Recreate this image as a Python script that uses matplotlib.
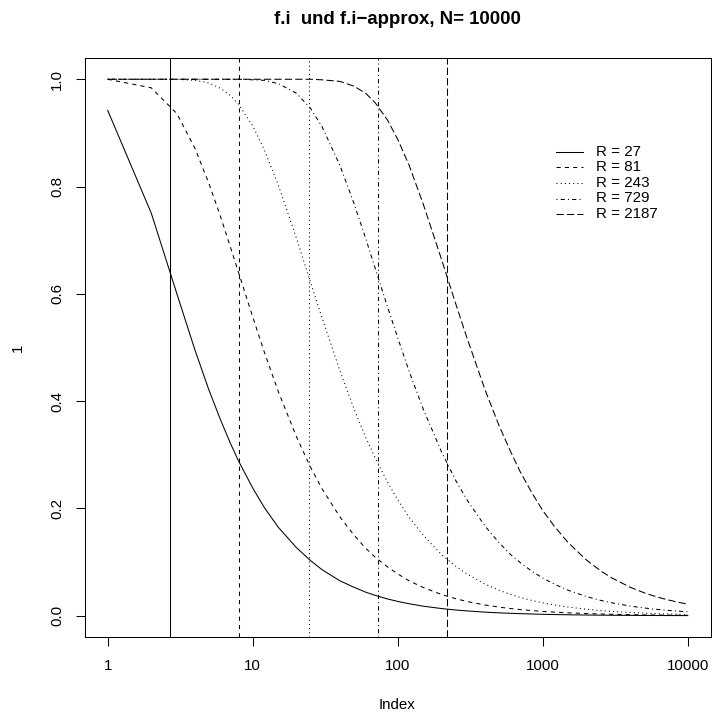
import matplotlib
matplotlib.use("Agg")
import matplotlib.pyplot as plt
from matplotlib.ticker import FixedLocator, FixedFormatter, NullLocator
from matplotlib.lines import Line2D
from matplotlib.transforms import Affine2D

plt.rcParams['font.family'] = ['Liberation Sans', 'DejaVu Sans']

index = [1, 2, 3, 4, 5, 6, 7, 8, 10, 12, 15, 20, 25, 30, 40, 50, 60, 70, 85,
         100, 120, 150, 200, 250, 300, 400, 500, 600, 700, 850, 1000, 1200,
         1500, 2000, 2500, 3000, 4000, 5000, 6000, 7000, 8500, 10000]

f_27 = [0.942, 0.750, 0.600, 0.495, 0.420, 0.365, 0.322, 0.288, 0.238, 0.202,
        0.165, 0.127, 0.103, 0.086, 0.065, 0.053, 0.044, 0.0379, 0.0313,
        0.0267, 0.0223, 0.0178, 0.0134, 0.0107, 0.0090, 0.0067, 0.0054,
        0.0045, 0.0039, 0.0032, 0.0027, 0.00225, 0.0018, 0.00135, 0.00108,
        0.0009, 0.000675, 0.00054, 0.00045, 0.00039, 0.00032, 0.00027]
f_81 = [1.000, 0.984, 0.936, 0.871, 0.805, 0.744, 0.688, 0.639, 0.557, 0.492,
        0.418, 0.334, 0.277, 0.237, 0.184, 0.150, 0.126, 0.109, 0.091,
        0.078, 0.065, 0.0526, 0.0397, 0.0319, 0.0266, 0.0200, 0.0161,
        0.0134, 0.0115, 0.0095, 0.0081, 0.0067, 0.0054, 0.00405, 0.00324,
        0.0027, 0.0020, 0.0016, 0.00135, 0.00116, 0.00095, 0.00081]
f_243 = [1.000, 1.000, 1.000, 0.998, 0.993, 0.983, 0.970, 0.953, 0.913, 0.869,
         0.803, 0.704, 0.622, 0.556, 0.456, 0.385, 0.333, 0.294, 0.249,
         0.216, 0.183, 0.150, 0.114, 0.0927, 0.078, 0.0589, 0.0475,
         0.0397, 0.0341, 0.0282, 0.0240, 0.0200, 0.0161, 0.0121, 0.0097,
         0.0081, 0.0061, 0.0049, 0.00405, 0.00347, 0.00286, 0.00243]
f_729 = [1.000, 1.000, 1.000, 1.000, 1.000, 1.000, 1.000, 1.000, 0.999, 0.998,
         0.992, 0.974, 0.946, 0.912, 0.839, 0.768, 0.704, 0.647, 0.576,
         0.518, 0.455, 0.385, 0.306, 0.253, 0.216, 0.167, 0.136,
         0.114, 0.099, 0.082, 0.0703, 0.0589, 0.0474, 0.0358, 0.0287,
         0.0240, 0.0180, 0.0145, 0.0121, 0.0104, 0.0086, 0.0073]
f_2187 = [1.000, 1.000, 1.000, 1.000, 1.000, 1.000, 1.000, 1.000, 1.000, 1.000,
          1.000, 1.000, 1.000, 0.999, 0.996, 0.987, 0.974, 0.956, 0.924,
          0.888, 0.839, 0.767, 0.665, 0.583, 0.518, 0.421, 0.354,
          0.306, 0.268, 0.227, 0.196, 0.167, 0.136, 0.104, 0.0838,
          0.0703, 0.0532, 0.0428, 0.0358, 0.0308, 0.0254, 0.0216]

R_values = [27, 81, 243, 729, 2187]
series = [f_27, f_81, f_243, f_729, f_2187]
vline_x = [2.7, 8.1, 24.3, 72.9, 218.7]
legend_labels = ["R = 27", "R = 81", "R = 243", "R = 729", "R = 2187"]
xticks = [1, 10, 100, 1000, 10000]
xtick_labels = ["1", "10", "100", "1000", "10000"]
yticks = [0.0, 0.2, 0.4, 0.6, 0.8, 1.0]
ytick_labels = ["0.0", "0.2", "0.4", "0.6", "0.8", "1.0"]

styles = ['-', (0, (4, 4)), (0, (1, 3)), (0, (1, 3, 4, 3)), (0, (7, 3))]

W, H = 712, 713
fs = 10.9
fig = plt.figure(figsize=(W / 100, H / 100), dpi=100)
left, right, top, bottom = 84.5, 711, 57.8, 637.2
ax = fig.add_axes([left / W, 1 - bottom / H, (right - left) / W, (bottom - top) / H])

lw = 0.75
for y, ls in zip(series, styles):
    ax.plot(index, y, color='black', lw=lw, linestyle=ls)
for xv, ls in zip(vline_x, styles):
    ax.axvline(xv, color='black', lw=lw, linestyle=ls)

ax.set_xscale('log')
ax.set_xlim(10 ** (-0.16), 10 ** (4.16))
ax.set_ylim(-0.04, 1.04)
ax.xaxis.set_major_locator(FixedLocator(xticks))
ax.xaxis.set_major_formatter(FixedFormatter(xtick_labels))
ax.xaxis.set_minor_locator(NullLocator())
ax.set_yticks(yticks)
ax.set_yticklabels(ytick_labels, rotation=90, va='center')

for sp in ax.spines.values():
    sp.set_linewidth(0.75)
ax.tick_params(axis='both', length=6.2, width=0.75, labelsize=fs)
ax.tick_params(axis='x', pad=9.5)
ax.tick_params(axis='y', pad=8.5)

def px(x, y):
    return x / W, 1 - y / H

fig.text(*px(397.5, 705), "Index", ha='center', va='center', fontsize=fs)
fig.text(*px(18, 348), "1", ha='center', va='center', fontsize=fs, rotation=90)
fig.text(*px(397.5, 20), "f.i  und f.i\u2212approx, N= 10000",
         ha='center', va='center', fontsize=13.4, fontweight='bold')

# legend (no box), drawn in figure pixel positions
row_y = [151.7, 167.3, 182.9, 198.5, 214.1]
for yy, ls, lab in zip(row_y, styles, legend_labels):
    x0, y0 = px(556, yy)
    x1, _ = px(583, yy)
    fig.add_artist(Line2D([x0, x1], [y0, y0], transform=fig.transFigure,
                          color='black', lw=lw, linestyle=ls))
    fig.text(*px(596, yy), lab, ha='left', va='center', fontsize=fs)

fig.savefig("out.png", dpi=100)
